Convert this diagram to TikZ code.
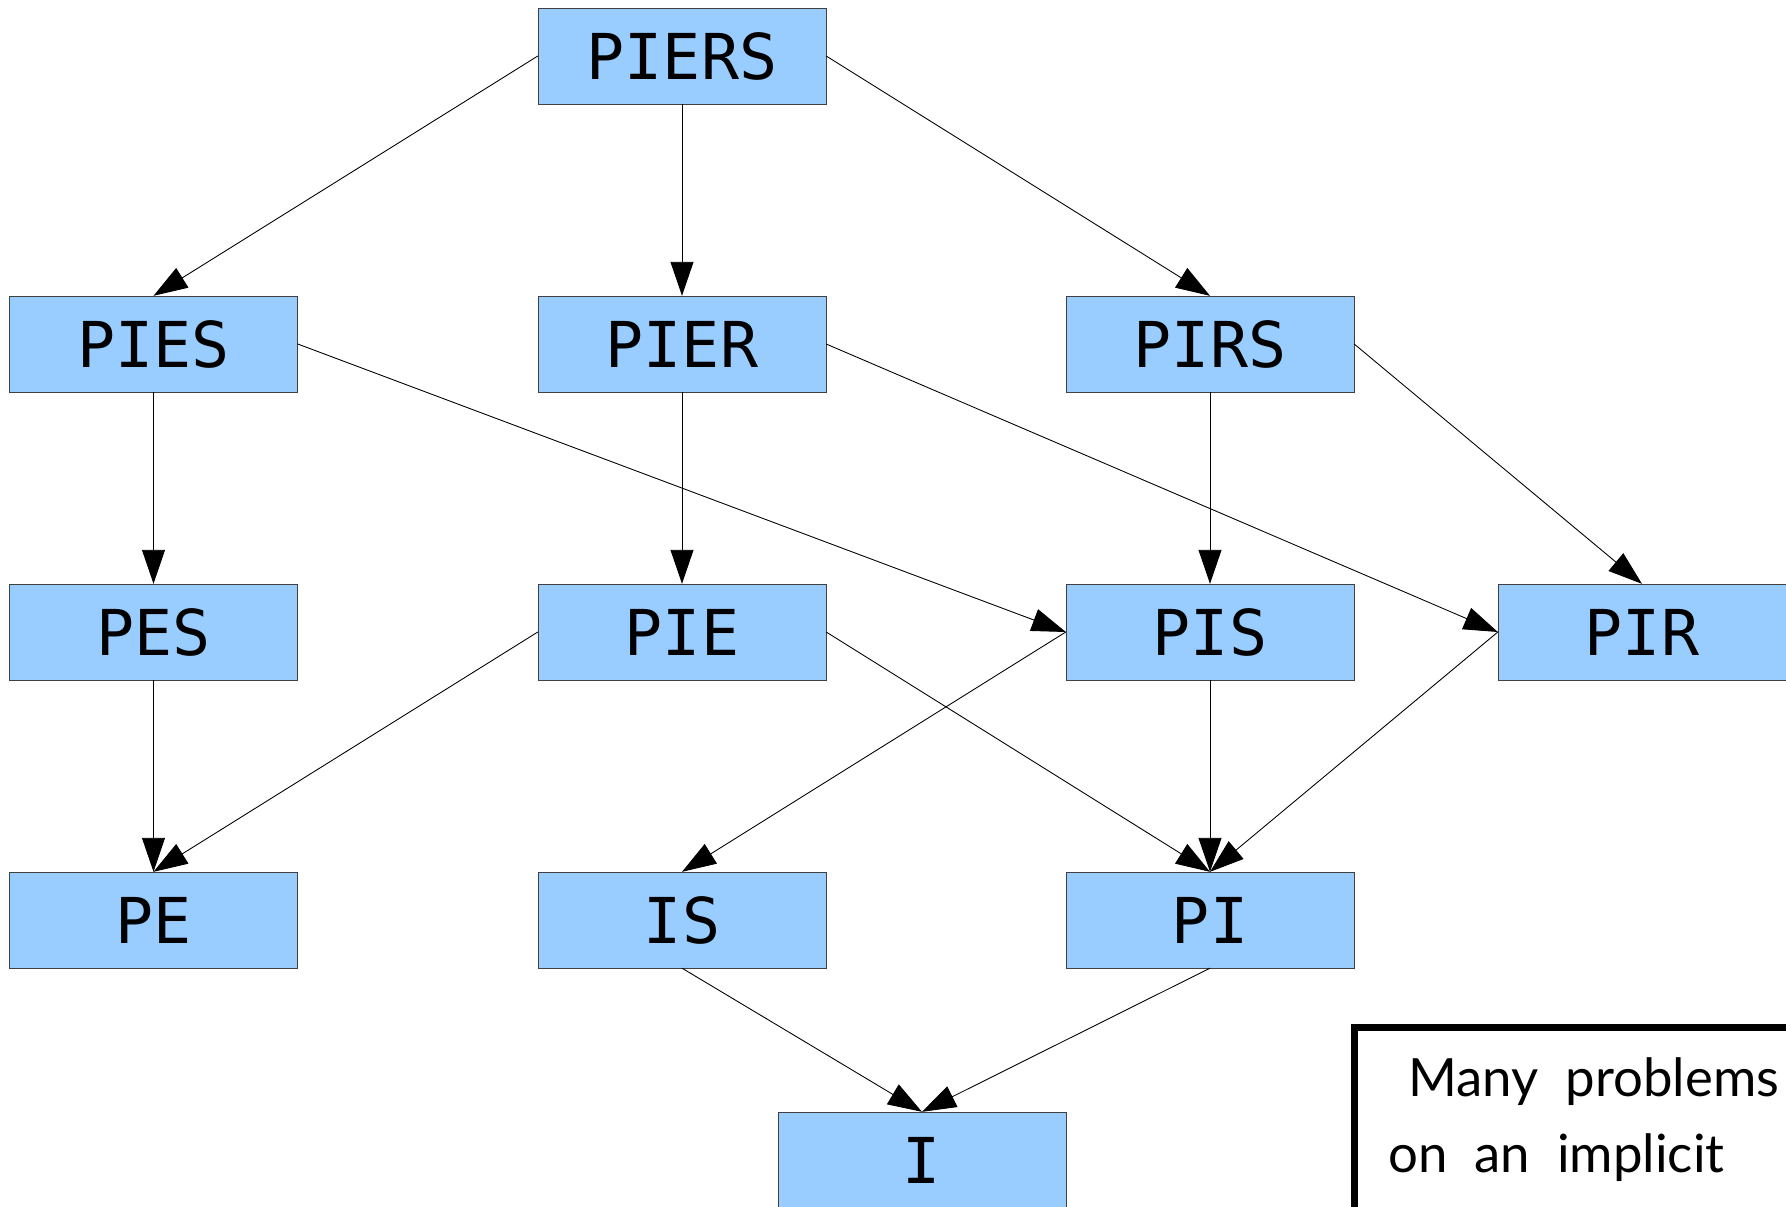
\documentclass[tikz,border=0pt]{standalone}
\usepackage{fontspec}
\setmonofont{DejaVu Sans Mono}
\newfontfamily\notefont{Lato}[WordSpace=2]
\usetikzlibrary{arrows.meta}
\definecolor{boxblue}{RGB}{153,204,255}
\begin{document}
\begin{tikzpicture}[
	box/.style={ rectangle, draw=black!75, very thin, fill=boxblue, inner sep=0pt, minimum width=5.76cm, minimum height=1.92cm, font=\ttfamily\fontsize{36}{40}\selectfont },
	edge/.style={ draw, line width=0.5pt, -{Triangle[length=0.68cm,width=0.46cm]} },
	notebox/.style={ draw, line width=4pt, fill=white },
	notetext/.style={ anchor=base west, inner sep=0pt, font=\notefont\fontsize{30}{36}\selectfont }
]
\useasboundingbox (0,0) rectangle (35.72,24.12);
\clip (0,0) rectangle (35.72,24.12);

\node at (13.64,23.00) (piers) [box] {PIERS};
\node at (3.07,17.24) (pies) [box] {PIES};
\node at (13.64,17.24) (pier) [box] {PIER};
\node at (24.20,17.24) (pirs) [box] {PIRS};
\node at (3.07,11.48) (pes) [box] {PES};
\node at (13.64,11.48) (pie) [box] {PIE};
\node at (24.20,11.48) (pis) [box] {PIS};
\node at (32.84,11.48) (pir) [box] {PIR};
\node at (3.07,5.72) (pe) [box] {PE};
\node at (13.64,5.72) (is) [box] {IS};
\node at (24.20,5.72) (pi) [box] {PI};
\node at (18.44,0.92) (i) [box] {I};

\draw[edge] (piers.west) to (pies.north);
\draw[edge] (piers.south) to (pier.north);
\draw[edge] (piers.east) to (pirs.north);
\draw[edge] (pies.south) to (pes.north);
\draw[edge] (pies.east) to (pis.west);
\draw[edge] (pier.south) to (pie.north);
\draw[edge] (pier.east) to (pir.west);
\draw[edge] (pirs.south) to (pis.north);
\draw[edge] (pirs.east) to (pir.north);
\draw[edge] (pes.south) to (pe.north);
\draw[edge] (pie.west) to (pe.north);
\draw[edge] (pie.east) to (pi.north);
\draw[edge] (pis.west) to (is.north);
\draw[edge] (pis.south) to (pi.north);
\draw[edge] (pir.west) to (pi.north);
\draw[edge] (is.south) to (i.north);
\draw[edge] (pi.south) to (i.north);

% note, cut off at the border
\draw[notebox] (27.09,3.57) rectangle (37.00,-1.00);
\node at (28.16,2.18) (note1) [notetext] {Many problems};
\node at (27.76,0.68) (note2) [notetext] {on an implicit};

\end{tikzpicture}
\end{document}
